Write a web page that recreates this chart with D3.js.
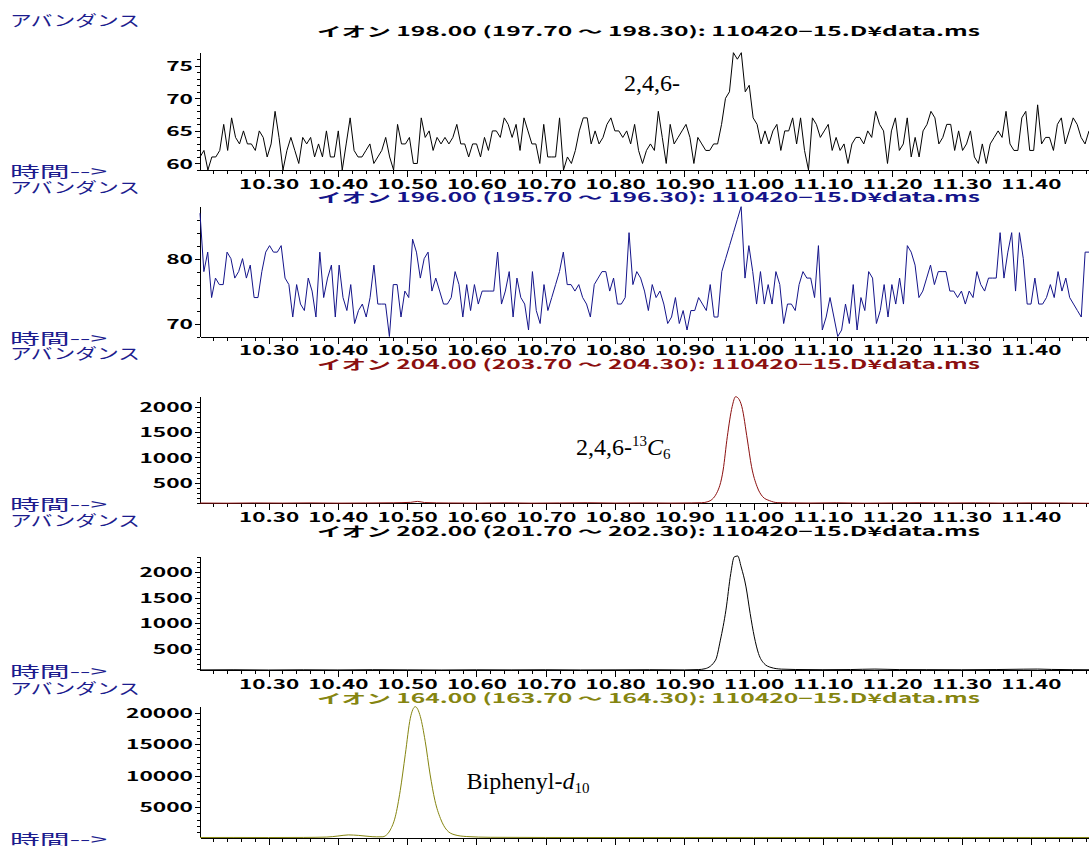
<!DOCTYPE html>
<html>
<head>
<meta charset="utf-8">
<script src="https://cdn.jsdelivr.net/npm/d3@7"></script>
<style>
  body { margin: 0; background: #fff; }
  svg { display: block; }
</style>
</head>
<body>
<svg id="chart" width="1089" height="846"></svg>
<script>
'use strict';

// time window of the printout (min)
const xStart = 10.201;
const xEnd = 11.484;
const xMajorTicks = [10.30, 10.40, 10.50, 10.60, 10.70, 10.80, 10.90, 11.00, 11.10, 11.20, 11.30, 11.40];
const xMinorStep = 0.02;

// m/z 198 - one value per scan
const ion198 = [
  61, 62, 59, 61, 61, 62, 66, 62, 67, 64, 63, 65, 63, 63, 62, 65, 64, 61, 63, 68,
  64, 59, 62, 64, 62, 60, 64, 63, 64, 61, 63, 61, 65, 61, 61, 65, 59, 63, 67, 62,
  61, 61, 62, 63, 60, 61, 62, 64, 61, 59, 66, 63, 63,
  64, 60, 60, 67, 64, 65, 62, 64, 63, 64, 63, 64, 66, 63, 63, 61, 63, 63, 61, 64,
  62, 65, 65, 64, 67, 66, 64, 66, 62, 67, 65, 63, 63, 60, 66, 61, 61, 61, 67, 59,
  61, 60, 62, 65, 67, 67, 63, 65, 63, 64, 66, 67, 65, 65, 64, 65, 63, 66, 62, 60,
  62, 63, 62, 68, 64, 60, 66, 63, 64, 65, 66, 64, 60, 64, 63, 62, 62, 63, 63, 66,
  70, 71, 77, 76, 77, 71, 72, 67, 66, 63, 65, 63, 65, 66, 62, 65, 65, 67, 63, 67,
  62, 59, 67, 66, 64, 65, 66, 62, 64, 62, 63, 60, 63, 64, 64, 63, 65, 64, 68, 66,
  65, 60, 65, 67, 62, 63, 67, 61, 64, 61, 65, 66, 68, 67, 63, 64, 66, 66, 62, 65,
  62, 63, 65, 61, 60, 63, 60, 63, 64, 65, 64, 68, 63, 62, 62, 67, 68, 62, 62, 69,
  63, 64, 64, 62, 66, 67, 63, 65, 67, 66, 64, 63, 65
];

// m/z 196 - one value per scan
const ion196 = [
  87, 78, 81, 74, 77, 76, 76, 81, 80, 77, 78, 80, 77, 79, 74, 74, 78, 81, 82, 81,
  81, 82, 77, 76, 71, 76, 73, 72, 77, 75, 71, 81, 74, 77, 79, 71, 79, 74, 72, 76,
  70, 72, 73, 71, 74, 79, 73, 73, 73, 68, 76, 76, 71,
  75, 74, 83, 81, 77, 80, 81, 75, 77, 75, 73, 73, 74, 78, 76, 71, 76, 72, 76,
  73, 75, 75, 75, 75, 81, 73, 75, 78, 71, 77, 74, 73, 69, 78, 72, 70, 76, 72, 74,
  76, 78, 81, 76, 76, 75, 76, 74, 73, 71, 76, 77, 78, 78, 75, 77, 73, 73, 74, 84,
  76, 78, 77, 75, 72, 76, 74, 75, 73, 70, 71, 74, 70, 72, 69, 72, 72, 74, 73, 72,
  76, 71, 71, 78, 80, 82, 84, 86, 88, 77, 82, 78, 73, 78, 73, 76, 73, 78, 76,
  70, 73, 73, 72, 76, 78, 77, 77, 74, 82, 69, 71, 74, 71, 68, 69, 73, 70, 76, 69,
  74, 72, 78, 77, 70, 72, 76, 71, 76, 73, 77, 73, 82, 81, 79, 74, 75, 77, 79, 76,
  78, 78, 78, 75, 75, 74, 75, 73, 75, 74, 78, 76, 75, 77, 77, 77, 84, 77, 81, 84,
  75, 84, 80, 73, 73, 77, 73, 73, 74, 76, 74, 78, 75, 77, 74, 73, 72, 71, 81, 81
];

// m/z 204 (13C6 label)
const ion204Times = [
  10.201, 10.24, 10.28, 10.32, 10.36, 10.40, 10.44, 10.48, 10.505, 10.515, 10.525, 10.56,
  10.60, 10.64, 10.68, 10.72, 10.76, 10.80, 10.84, 10.88, 10.91, 10.925, 10.934, 10.9465,
  10.956, 10.962, 10.969, 10.974, 10.978, 10.983, 10.991, 10.997, 11.005, 11.013, 11.023,
  11.035, 11.05, 11.08, 11.12, 11.16, 11.20, 11.24, 11.28, 11.32, 11.36, 11.40, 11.44, 11.484
];
const ion204 = [
  98, 95, 100, 97, 101, 96, 99, 103, 112, 130, 108, 99,
  97, 102, 96, 100, 104, 98, 101, 97, 100, 104, 125, 289,
  750, 1408, 2000, 2197, 2164, 2000, 1342, 816, 421, 224, 145,
  105, 101, 98, 103, 96, 100, 104, 99, 102, 97, 101, 99, 93
];

// m/z 202
const ion202Times = [
  10.201, 10.25, 10.30, 10.35, 10.40, 10.45, 10.50, 10.55, 10.60, 10.65, 10.70, 10.75,
  10.80, 10.85, 10.90, 10.92, 10.930, 10.945, 10.952, 10.960, 10.967, 10.972, 10.977,
  10.982, 10.989, 10.995, 11.001, 11.007, 11.015, 11.025, 11.040, 11.06, 11.10, 11.14,
  11.175, 11.21, 11.25, 11.30, 11.35, 11.39, 11.41, 11.43, 11.46, 11.484
];
const ion202 = [
  92, 95, 90, 94, 91, 96, 93, 90, 94, 92, 95, 91,
  93, 96, 92, 98, 115, 282, 671, 1255, 1969, 2292, 2310,
  2097, 1708, 1190, 735, 412, 217, 140, 107, 100, 96, 99,
  108, 98, 97, 95, 99, 106, 108, 101, 97, 95
];

// m/z 164 (biphenyl-d10)
const ion164Times = [
  10.201, 10.25, 10.30, 10.35, 10.384, 10.40, 10.415, 10.43, 10.445, 10.456, 10.465,
  10.4684, 10.4756, 10.4828, 10.490, 10.4973, 10.5045, 10.5117, 10.519, 10.526, 10.533,
  10.540, 10.548, 10.557, 10.569, 10.586, 10.62, 10.70, 10.80, 10.90, 11.00, 11.10,
  11.20, 11.30, 11.40, 11.484
];
const ion164 = [
  150, 155, 148, 160, 220, 380, 560, 480, 320, 250, 260,
  410, 1350, 3430, 7620, 13370, 19100, 20940, 19370, 15450, 10230,
  6050, 3180, 1350, 565, 300, 180, 152, 148, 150, 153, 149,
  151, 150, 152, 150
];

const yTicks198 = [60, 65, 70, 75];
const yTicks196 = [70, 80];
const yTicks204 = [500, 1000, 1500, 2000];
const yTicks202 = [500, 1000, 1500, 2000];
const yTicks164 = [5000, 10000, 15000, 20000];

// equally spaced scans across the window
function scanTimes(values) {
  const step = (xEnd - xStart) / (values.length - 1);
  return values.map((v, i) => xStart + i * step);
}

const NAVY = '#1c1c8e';
const panels = [
  { title: 'イオン 198.00 (197.70 〜 198.30): 110420−15.D¥data.ms', color: '#000000',
    times: scanTimes(ion198), values: ion198, yTicks: yTicks198, yMinor: 1,
    top: 52.7, bottom: 170, curve: d3.curveLinear },
  { title: 'イオン 196.00 (195.70 〜 196.30): 110420−15.D¥data.ms', color: '#14148a',
    times: scanTimes(ion196), values: ion196, yTicks: yTicks196, yMinor: 2,
    top: 206.7, bottom: 336.5, curve: d3.curveLinear },
  { title: 'イオン 204.00 (203.70 〜 204.30): 110420−15.D¥data.ms', color: '#8b0f0f',
    times: ion204Times, values: ion204, yTicks: yTicks204, yMinor: 100,
    top: 396.7, bottom: 503.3, curve: d3.curveMonotoneX },
  { title: 'イオン 202.00 (201.70 〜 202.30): 110420−15.D¥data.ms', color: '#000000',
    times: ion202Times, values: ion202, yTicks: yTicks202, yMinor: 100,
    top: 556, bottom: 670, curve: d3.curveMonotoneX },
  { title: 'イオン 164.00 (163.70 〜 164.30): 110420−15.D¥data.ms', color: '#858510',
    times: ion164Times, values: ion164, yTicks: yTicks164, yMinor: 1000,
    top: 706.7, bottom: 837.5, curve: d3.curveMonotoneX, clipped: true }
];

const svg = d3.select('#chart');
const x = d3.scaleLinear().domain([xStart, xEnd]).range([200, 1089]);
const xMinorTicks = d3.range(10.22, xEnd, xMinorStep);
const numFont = 'bold 13px "Noto Sans CJK JP"';

//label widths follow the wide printer font
function numWidth(s) {
  return Array.from(s).reduce((w, c) => w + (c === '.' ? 6.6 : 13.4), 0);
}

function styleAxis(sel) {
  sel.select('.domain').attr('stroke', '#000').attr('stroke-width', 1);
  sel.selectAll('.tick line').attr('stroke', '#000').attr('stroke-width', 1);
  sel.attr('shape-rendering', 'crispEdges');
}

panels.forEach(p => {
  const g = svg.append('g');
  const y = d3.scaleLinear().domain(d3.extent(p.values)).range([p.bottom, p.top]);

  //side labels
  g.append('text')
    .attr('x', 10).attr('y', p.bottom - 144)
    .attr('textLength', 130).attr('lengthAdjust', 'spacingAndGlyphs')
    .style('font', '15px "Noto Sans CJK JP"').style('fill', NAVY)
    .text('アバンダンス');
  g.append('text')
    .attr('x', 10).attr('y', p.bottom + 7)
    .attr('textLength', 97).attr('lengthAdjust', 'spacingAndGlyphs')
    .style('font', '15px "Noto Sans CJK JP"').style('fill', NAVY)
    .text('時間-->');

  //ion title
  g.append('text')
    .attr('x', 317).attr('y', p.bottom - 134.5)
    .attr('textLength', 663).attr('lengthAdjust', 'spacingAndGlyphs')
    .style('font', 'bold 13px "Noto Sans CJK JP"').style('fill', p.color)
    .text(p.title);

  //x axis: minor then major ticks
  g.append('g')
    .attr('transform', `translate(0,${p.bottom})`)
    .call(d3.axisBottom(x).tickValues(xMinorTicks).tickSize(4).tickSizeOuter(0).tickFormat(''))
    .call(styleAxis);
  const xAxis = g.append('g')
    .attr('transform', `translate(0,${p.bottom})`)
    .call(d3.axisBottom(x).tickValues(xMajorTicks).tickSize(7).tickSizeOuter(0)
      .tickFormat(p.clipped ? '' : d3.format('.2f')))
    .call(styleAxis);
  xAxis.selectAll('.tick text')
    .attr('y', 18.5).attr('dy', null)
    .attr('fill', '#000')
    .style('font', numFont)
    .attr('textLength', d => numWidth(d3.format('.2f')(d)))
    .attr('lengthAdjust', 'spacingAndGlyphs');
  if (p.clipped) xAxis.selectAll('.tick text').remove();

  //y axis
  const [y0, y1] = y.domain();
  const yMinorTicks = d3.range(Math.ceil(y0 / p.yMinor) * p.yMinor, y1, p.yMinor);
  g.append('g')
    .attr('transform', 'translate(200,0)')
    .call(d3.axisLeft(y).tickValues(yMinorTicks).tickSize(3).tickSizeOuter(0).tickFormat(''))
    .call(styleAxis);
  const yAxis = g.append('g')
    .attr('transform', 'translate(200,0)')
    .call(d3.axisLeft(y).tickValues(p.yTicks).tickSize(5).tickSizeOuter(0).tickFormat(d3.format('d')))
    .call(styleAxis);
  yAxis.selectAll('.tick text')
    .attr('x', -7).attr('dy', '0.36em')
    .attr('fill', '#000')
    .style('font', numFont)
    .attr('textLength', d => numWidth(String(d)))
    .attr('lengthAdjust', 'spacingAndGlyphs');

  //trace
  const line = d3.line()
    .x(d => x(d[0]))
    .y(d => y(d[1]))
    .curve(p.curve);
  g.append('path')
    .datum(d3.zip(p.times, p.values))
    .attr('d', line)
    .attr('fill', 'none')
    .attr('stroke', p.color)
    .attr('stroke-width', 1)
    .attr('stroke-linejoin', 'miter');
});

//compound annotations
const serif = '"Liberation Serif", "Times New Roman", serif';
svg.append('text')
  .attr('x', 624).attr('y', 91)
  .style('font-family', serif).style('font-size', '24px')
  .text('2,4,6-');

const c13 = svg.append('text')
  .attr('x', 576).attr('y', 455)
  .style('font-family', serif).style('font-size', '24px');
c13.append('tspan').text('2,4,6-');
c13.append('tspan').attr('dy', -9).style('font-size', '15px').text('13');
c13.append('tspan').attr('dy', 9).style('font-style', 'italic').text('C');
c13.append('tspan').attr('dy', 4).style('font-size', '15px').text('6');

const bip = svg.append('text')
  .attr('x', 466.5).attr('y', 789)
  .style('font-family', serif).style('font-size', '24px');
bip.append('tspan').text('Biphenyl-');
bip.append('tspan').style('font-style', 'italic').text('d');
bip.append('tspan').attr('dy', 4).style('font-size', '15px').text('10');
</script>
</body>
</html>
